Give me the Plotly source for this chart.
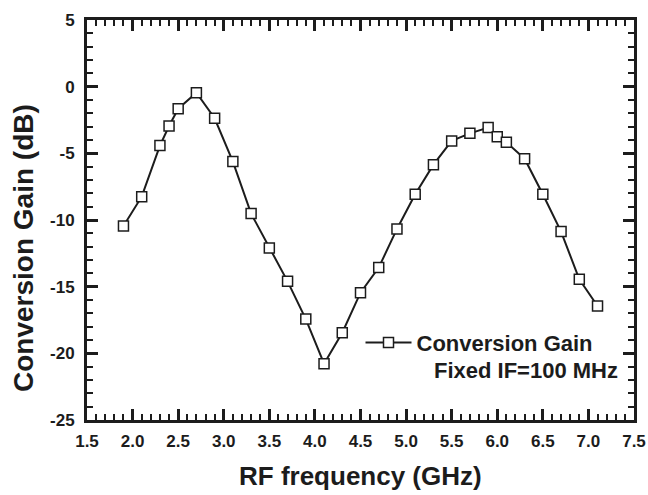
import plotly.graph_objects as go

freq_ghz = [1.9, 2.1, 2.3, 2.4, 2.5, 2.7, 2.9, 3.1, 3.3, 3.5, 3.7, 3.9, 4.1, 4.3, 4.5,
            4.7, 4.9, 5.1, 5.3, 5.5, 5.7, 5.9, 6.0, 6.1, 6.3, 6.5, 6.7, 6.9, 7.1]
gain_db = [-10.45, -8.25, -4.42, -2.95, -1.65, -0.45, -2.37, -5.62, -9.52, -12.1, -14.6,
           -17.43, -20.78, -18.45, -15.45, -13.57, -10.67, -8.07, -5.85, -4.07, -3.5,
           -3.07, -3.75, -4.17, -5.4, -8.07, -10.87, -14.45, -16.45]

x_ticks = [1.5, 2.0, 2.5, 3.0, 3.5, 4.0, 4.5, 5.0, 5.5, 6.0, 6.5, 7.0, 7.5]
x_tick_labels = ["1.5", "2.0", "2.5", "3.0", "3.5", "4.0", "4.5", "5.0", "5.5", "6.0", "6.5", "7.0", "7.5"]
y_ticks = [-25, -20, -15, -10, -5, 0, 5]
y_tick_labels = ["-25", "-20", "-15", "-10", "-5", "0", "5"]

series_name = "Conversion Gain"
note_text = "Fixed IF=100 MHz"
x_title = "RF frequency (GHz)"
y_title = "Conversion Gain (dB)"

INK = "#1c1c1c"
FONT = "Liberation Sans, Arial, sans-serif"

fig = go.Figure()
fig.add_trace(go.Scatter(
    x=freq_ghz, y=gain_db, mode="lines+markers", name=series_name,
    line=dict(color=INK, width=2),
    marker=dict(symbol="square", size=10, color="white", line=dict(color=INK, width=1.5)),
))

axis_common = dict(
    showgrid=False, zeroline=False, showline=True, linecolor=INK, linewidth=3,
    mirror="ticks", ticks="inside", tickcolor=INK, tickwidth=3, ticklen=11,
    automargin=False,
    tickfont=dict(family=FONT, size=17, color=INK, weight="bold"),
)

fig.update_xaxes(range=[1.5, 7.5], tickmode="array", tickvals=x_ticks, ticktext=x_tick_labels,
                 minor=dict(dtick=0.1, ticks="inside", ticklen=6, tickwidth=2, tickcolor=INK),
                 ticklabelstandoff=4, **axis_common)
fig.update_yaxes(range=[-25, 5], tickmode="array", tickvals=y_ticks, ticktext=y_tick_labels,
                 minor=dict(dtick=1, ticks="inside", ticklen=6, tickwidth=2, tickcolor=INK),
                 ticklabelstandoff=6, **axis_common)

fig.add_annotation(text=x_title, xref="paper", yref="paper", x=0.5, y=-0.14,
                   xanchor="center", yanchor="middle", showarrow=False,
                   font=dict(family=FONT, size=26, color=INK, weight="bold"))
fig.add_annotation(text=y_title, xref="paper", yref="paper", x=-0.117, y=0.43,
                   xanchor="center", yanchor="middle", showarrow=False, textangle=-90,
                   font=dict(family=FONT, size=28, color=INK, weight="bold"))
fig.add_annotation(text=note_text, xref="paper", yref="paper", x=0.975, y=0.125,
                   xanchor="right", yanchor="middle", showarrow=False,
                   font=dict(family=FONT, size=22, color=INK, weight="bold"))

fig.update_layout(
    width=648, height=495,
    margin=dict(l=87, r=14, t=20, b=75, autoexpand=False),
    paper_bgcolor="white", plot_bgcolor="white",
    showlegend=True,
    legend=dict(x=0.5, y=0.193, xanchor="left", yanchor="middle",
                bgcolor="rgba(0,0,0,0)", borderwidth=0, itemwidth=46,
                font=dict(family=FONT, size=22, color=INK, weight="bold")),
)

fig.write_html("out.html", config={"displayModeBar": False},
               post_script="document.body.style.margin='0';document.body.style.overflow='hidden';")
